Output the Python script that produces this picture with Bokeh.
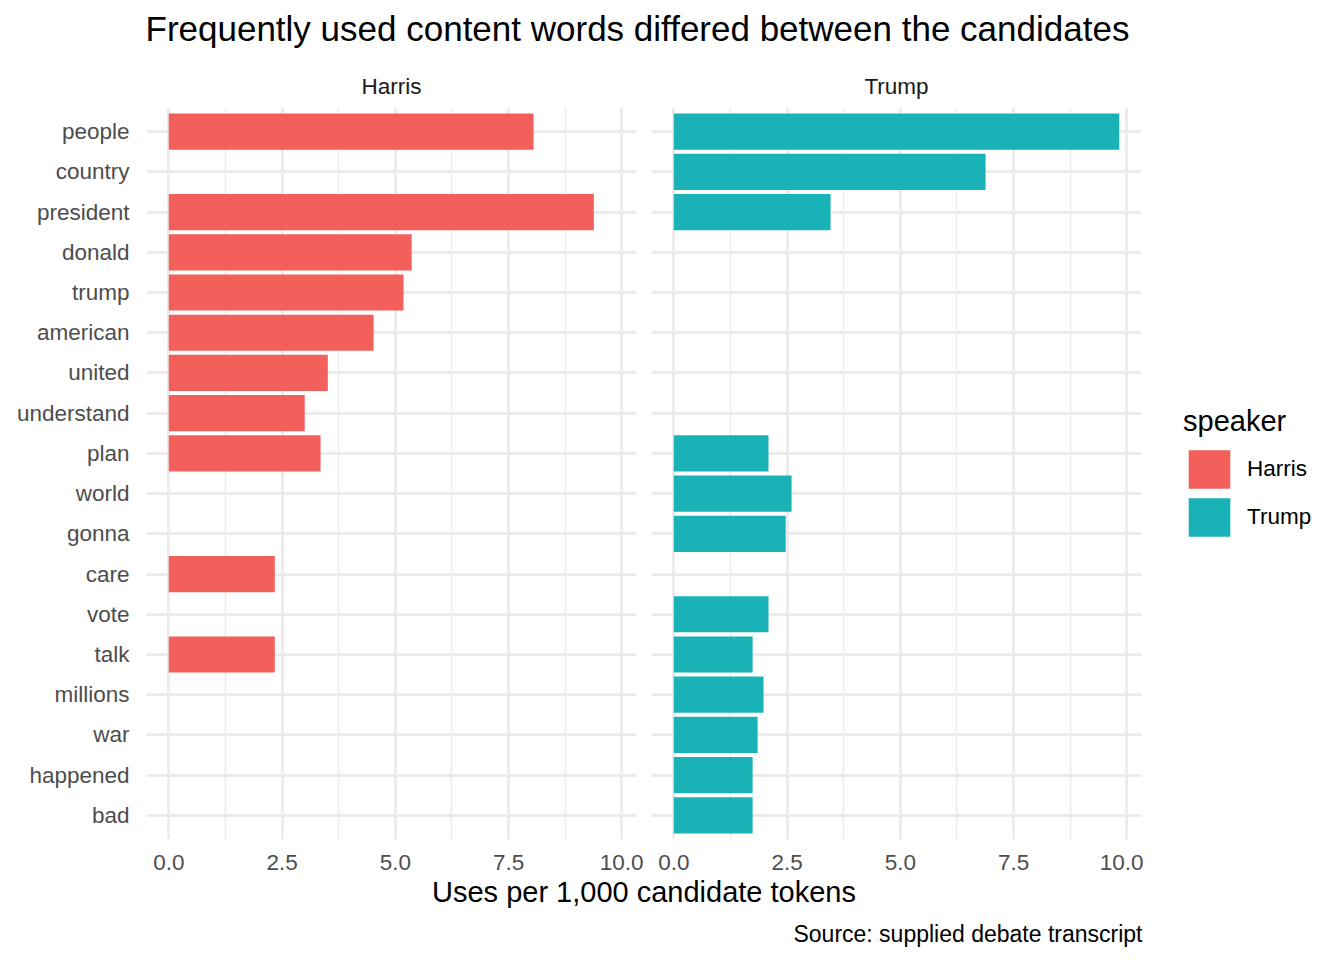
from bokeh.plotting import figure
from bokeh.models import (ColumnDataSource, FactorRange, Range1d, FixedTicker,
                          NumeralTickFormatter, Legend, LegendItem, Label, Plot,
                          HBar, CategoricalScale, LinearScale)
from bokeh.layouts import column, row
from bokeh.embed import file_html
from bokeh.resources import INLINE

# ---------------- data ----------------
words = ["people", "country", "president", "donald", "trump", "american",
         "united", "understand", "plan", "world", "gonna", "care", "vote",
         "talk", "millions", "war", "happened", "bad"]
harris_rate = [8.05, None, 9.38, 5.36, 5.18, 4.52, 3.51, 3.00, 3.35, None,
               None, 2.34, None, 2.34, None, None, None, None]
trump_rate = [9.83, 6.88, 3.46, None, None, None, None, None, 2.09, 2.60,
              2.47, None, 2.09, 1.74, 1.98, 1.85, 1.74, 1.74]
speakers = ["Harris", "Trump"]
speaker_colors = ["#F3605B", "#19B3B7"]
x_ticks = [0, 2.5, 5, 7.5, 10]
x_minor_ticks = [1.25, 3.75, 6.25, 8.75]

title_text = "Frequently used content words differed between the candidates"
x_title = "Uses per 1,000 candidate tokens"
caption = "Source: supplied debate transcript"
legend_title = "speaker"

FONT = "Liberation Sans"
GRID = "#EBEBEB"

all_vals = [v for v in harris_rate + trump_rate if v is not None]
xmax = max(all_vals)
pad = 0.05 * xmax
factors = list(reversed(words))


def speaker_source(values):
    keep = [(w, v) for w, v in zip(words, values) if v is not None]
    return ColumnDataSource(dict(word=[w for w, _ in keep],
                                 rate=[v for _, v in keep]))


sources = [speaker_source(harris_rate), speaker_source(trump_rate)]

TOP_H = 55
PANEL_H = 822
BOTTOM_H = 83
TOP_B, BOT_B = 52, 38


def make_panel(name, src, color, width, bl, br, show_y):
    p = figure(width=width, height=PANEL_H,
               y_range=FactorRange(factors=factors, range_padding=0.1,
                                   range_padding_units="absolute"),
               x_range=Range1d(-pad, xmax + pad),
               toolbar_location=None, output_backend="svg",
               min_border_left=bl, min_border_right=br,
               min_border_top=TOP_B, min_border_bottom=BOT_B)
    p.hbar(y="word", left=0, right="rate", height=0.9, source=src,
           fill_color=color, line_color=None)
    p.outline_line_color = None
    p.title.text = name
    p.title.align = "center"
    p.title.text_font = FONT
    p.title.text_font_size = "22.5px"
    p.title.text_font_style = "normal"
    p.title.text_color = "#1A1A1A"
    p.title.standoff = 17

    p.xaxis.ticker = FixedTicker(ticks=x_ticks, minor_ticks=x_minor_ticks)
    p.xaxis.formatter = NumeralTickFormatter(format="0.0")
    for ax in (p.xaxis, p.yaxis):
        ax.axis_line_color = None
        ax.major_tick_line_color = None
        ax.minor_tick_line_color = None
        ax.major_tick_out = 0
        ax.minor_tick_out = 0
        ax.major_tick_in = 0
        ax.minor_tick_in = 0
        ax.major_label_text_font = FONT
        ax.major_label_text_font_size = "22.5px"
        ax.major_label_text_color = "#4D4D4D"
    p.xaxis.major_label_standoff = 15
    p.yaxis.major_label_standoff = 17
    p.yaxis.visible = show_y

    p.xgrid.grid_line_color = GRID
    p.xgrid.grid_line_width = 2.8
    p.xgrid.minor_grid_line_color = GRID
    p.xgrid.minor_grid_line_width = 1.4
    p.ygrid.grid_line_color = GRID
    p.ygrid.grid_line_width = 2.8
    return p


p1 = make_panel(speakers[0], sources[0], speaker_colors[0], 643, 146, 7, True)
p2 = make_panel(speakers[1], sources[1], speaker_colors[1], 500, 8, 2, False)


def blank_plot(width, height, y_range=None, y_scale=None):
    return Plot(width=width, height=height, x_range=Range1d(0, 1),
                y_range=y_range if y_range is not None else Range1d(0, 1),
                y_scale=y_scale if y_scale is not None else LinearScale(),
                toolbar_location=None, outline_line_color=None,
                min_border=0, output_backend="svg")


# legend column: hidden copies of the bars supply the legend swatches
leg = blank_plot(201, PANEL_H, FactorRange(factors=factors), CategoricalScale())
items = []
for name, src, color in zip(speakers, sources, speaker_colors):
    r = leg.add_glyph(src, HBar(y="word", left=0, right="rate", height=0.9,
                                fill_color=color, line_color=None))
    r.visible = False
    items.append(LegendItem(label=name, renderers=[r]))
legend = Legend(items=items, location=(40, 298), orientation="vertical",
                title=legend_title, title_text_font=FONT,
                title_text_font_size="29px", title_text_font_style="normal",
                title_text_color="#000000", title_standoff=7,
                label_text_font=FONT, label_text_font_size="22.5px",
                label_text_color="#000000", label_standoff=12,
                glyph_width=52, glyph_height=48, spacing=0,
                padding=0, margin=0, border_line_color=None,
                background_fill_alpha=0)
leg.add_layout(legend, "center")

top = blank_plot(1344, TOP_H)
top.add_layout(Label(x=145, y=27, x_units="screen", y_units="screen",
                     text=title_text, text_font=FONT, text_font_size="35px",
                     text_color="#000000", text_baseline="alphabetic",
                     text_align="left"))

bottom = blank_plot(1344, BOTTOM_H)
bottom.add_layout(Label(x=643.5, y=69, x_units="screen", y_units="screen",
                        text=x_title, text_font=FONT, text_font_size="29px",
                        text_color="#000000", text_baseline="alphabetic",
                        text_align="center"))
bottom.add_layout(Label(x=1142, y=27, x_units="screen", y_units="screen",
                        text=caption, text_font=FONT, text_font_size="23px",
                        text_color="#000000", text_baseline="alphabetic",
                        text_align="right"))

layout = column(top, row(p1, p2, leg), bottom)

with open("out.html", "w") as f:
    f.write(file_html(layout, INLINE))
